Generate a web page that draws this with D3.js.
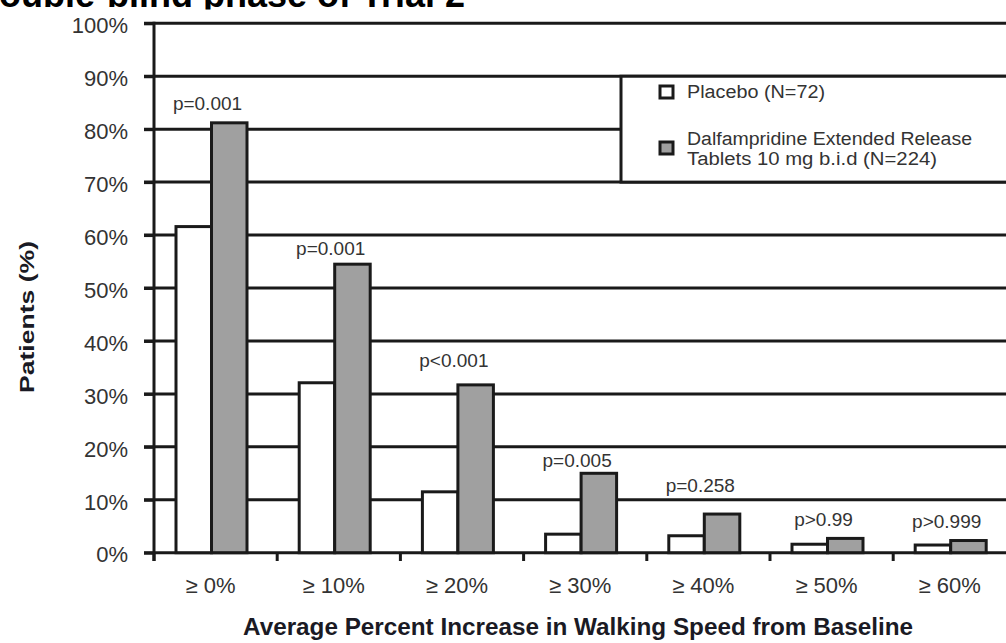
<!DOCTYPE html>
<html lang="en">
<head>
<meta charset="UTF-8">
<title>Walking speed responders</title>
<script src="https://d3js.org/d3.v7.min.js"></script>
<style>
    body { margin: 0; background: #fff; overflow: hidden; }
    svg { display: block; font-family: "Liberation Sans", Arial, sans-serif; }
</style>
</head>
<body>
<svg id="chart" width="1006" height="643"></svg>
<script>
// Data
const categories = ["\u2265 0%", "\u2265 10%", "\u2265 20%", "\u2265 30%", "\u2265 40%", "\u2265 50%", "\u2265 60%"];
const seriesNames = ["Placebo (N=72)", "Dalfampridine Extended Release|Tablets 10 mg b.i.d (N=224)"];
const placebo = [61.6, 32.1, 11.5, 3.5, 3.2, 1.6, 1.45];
const dalfampridine = [81.2, 54.5, 31.7, 15.0, 7.3, 2.7, 2.3];
const pValues = ["p=0.001", "p=0.001", "p<0.001", "p=0.005", "p=0.258", "p>0.99", "p>0.999"];
const pLabelLevel = [83.6, 56.2, 35.1, 16.2, 11.5, 5.0, 4.6];
const yTicks = [0, 10, 20, 30, 40, 50, 60, 70, 80, 90, 100];

const W = 1006, H = 643;
const ink = "#1a1a1a";
const fills = ["#ffffff", "#a0a0a0"];

const svg = d3.select("#chart");

const y = d3.scaleLinear().domain([0, 100]).range([552.7, 23.3]);
const x0 = d3.scaleBand().domain(categories).range([154, 154 + 7 * 123.2]).padding(0);
const x1 = d3.scaleBand().domain([0, 1]).range([22, 93]).padding(0);

// title, mostly cut off at the top
svg.append("clipPath").attr("id", "titleClip")
    .append("rect").attr("x", 0).attr("y", -60).attr("width", W).attr("height", 69.5);
svg.append("text")
    .attr("clip-path", "url(#titleClip)")
    .attr("x", -27).attr("y", 7)
    .style("font-size", "36px").style("font-weight", "bold").attr("fill", "#000")
    .text("Double-blind phase of Trial 2");

// gridlines
svg.append("g").selectAll("line")
    .data(yTicks)
    .join("line")
    .attr("x1", 144).attr("x2", W)
    .attr("y1", d => y(d)).attr("y2", d => y(d))
    .attr("stroke", ink).attr("stroke-width", 3);

// bars
const groups = svg.append("g").selectAll("g")
    .data(categories.map((c, i) => ({ c, vals: [placebo[i], dalfampridine[i]] })))
    .join("g")
    .attr("transform", d => `translate(${x0(d.c)},0)`);

groups.selectAll("rect")
    .data(d => d.vals.map((v, k) => ({ v, k })))
    .join("rect")
    .attr("x", d => x1(d.k))
    .attr("width", x1.bandwidth())
    .attr("y", d => y(d.v))
    .attr("height", d => y(0) - y(d.v))
    .attr("fill", d => fills[d.k])
    .attr("stroke", ink).attr("stroke-width", 3);

// p-value annotations
svg.append("g").selectAll("text")
    .data(pValues)
    .join("text")
    .attr("x", (d, i) => x0(categories[i]) + x1(1) - 4)
    .attr("y", (d, i) => y(pLabelLevel[i]))
    .attr("text-anchor", "middle")
    .style("font-size", "19px").attr("fill", "#333")
    .text(d => d);

// legend
const lg = svg.append("g");
lg.append("rect")
    .attr("x", 621).attr("y", y(90))
    .attr("width", 500).attr("height", y(70) - y(90))
    .attr("fill", "#fff").attr("stroke", ink).attr("stroke-width", 3);
const legendRows = [{ sy: 92, lines: [98], len: [138] }, { sy: 148, lines: [145, 165], len: [285, 250] }];
legendRows.forEach((r, k) => {
    lg.append("rect")
        .attr("x", 660).attr("y", r.sy - 6).attr("width", 13).attr("height", 12)
        .attr("fill", fills[k]).attr("stroke", ink).attr("stroke-width", 3);
    seriesNames[k].split("|").forEach((t, j) => {
        lg.append("text")
            .attr("x", 687).attr("y", r.lines[j])
            .attr("textLength", r.len[j]).attr("lengthAdjust", "spacingAndGlyphs")
            .style("font-size", "18px").attr("fill", "#333")
            .text(t);
    });
});

// y axis
const yAxis = svg.append("g")
    .attr("transform", "translate(154,0)")
    .call(d3.axisLeft(y).tickValues(yTicks).tickSize(10).tickPadding(16).tickFormat(d => d + "%"));
yAxis.select(".domain").remove();
yAxis.selectAll(".tick line").attr("stroke", ink).attr("stroke-width", 3);
yAxis.selectAll(".tick text")
    .style("font-size", "22px").style("font-family", "'Liberation Sans', Arial, sans-serif")
    .attr("fill", "#333").attr("dy", "0.42em");

svg.append("line")
    .attr("x1", 154).attr("x2", 154)
    .attr("y1", y(100) - 1.5).attr("y2", 561)
    .attr("stroke", ink).attr("stroke-width", 3);

// x axis: boundary ticks and labels
svg.append("g").selectAll("line")
    .data(categories)
    .join("line")
    .attr("x1", d => x0(d)).attr("x2", d => x0(d))
    .attr("y1", y(0)).attr("y2", 561)
    .attr("stroke", ink).attr("stroke-width", 3);

svg.append("g").selectAll("text")
    .data(categories)
    .join("text")
    .attr("x", d => x0(d) + x1(1) - 1)
    .attr("y", 593)
    .attr("text-anchor", "middle")
    .style("font-size", "22px").attr("fill", "#333")
    .text(d => d);

// axis titles
svg.append("text")
    .attr("x", 578).attr("y", 635)
    .attr("text-anchor", "middle")
    .attr("textLength", 670).attr("lengthAdjust", "spacingAndGlyphs")
    .style("font-size", "23px").style("font-weight", "bold").attr("fill", "#1a1a24")
    .text("Average Percent Increase in Walking Speed from Baseline");

svg.append("text")
    .attr("transform", "translate(34,317) rotate(-90)")
    .attr("text-anchor", "middle")
    .attr("textLength", 152).attr("lengthAdjust", "spacingAndGlyphs")
    .style("font-size", "21px").style("font-weight", "bold").attr("fill", "#1a1a24")
    .text("Patients (%)");
</script>
</body>
</html>
